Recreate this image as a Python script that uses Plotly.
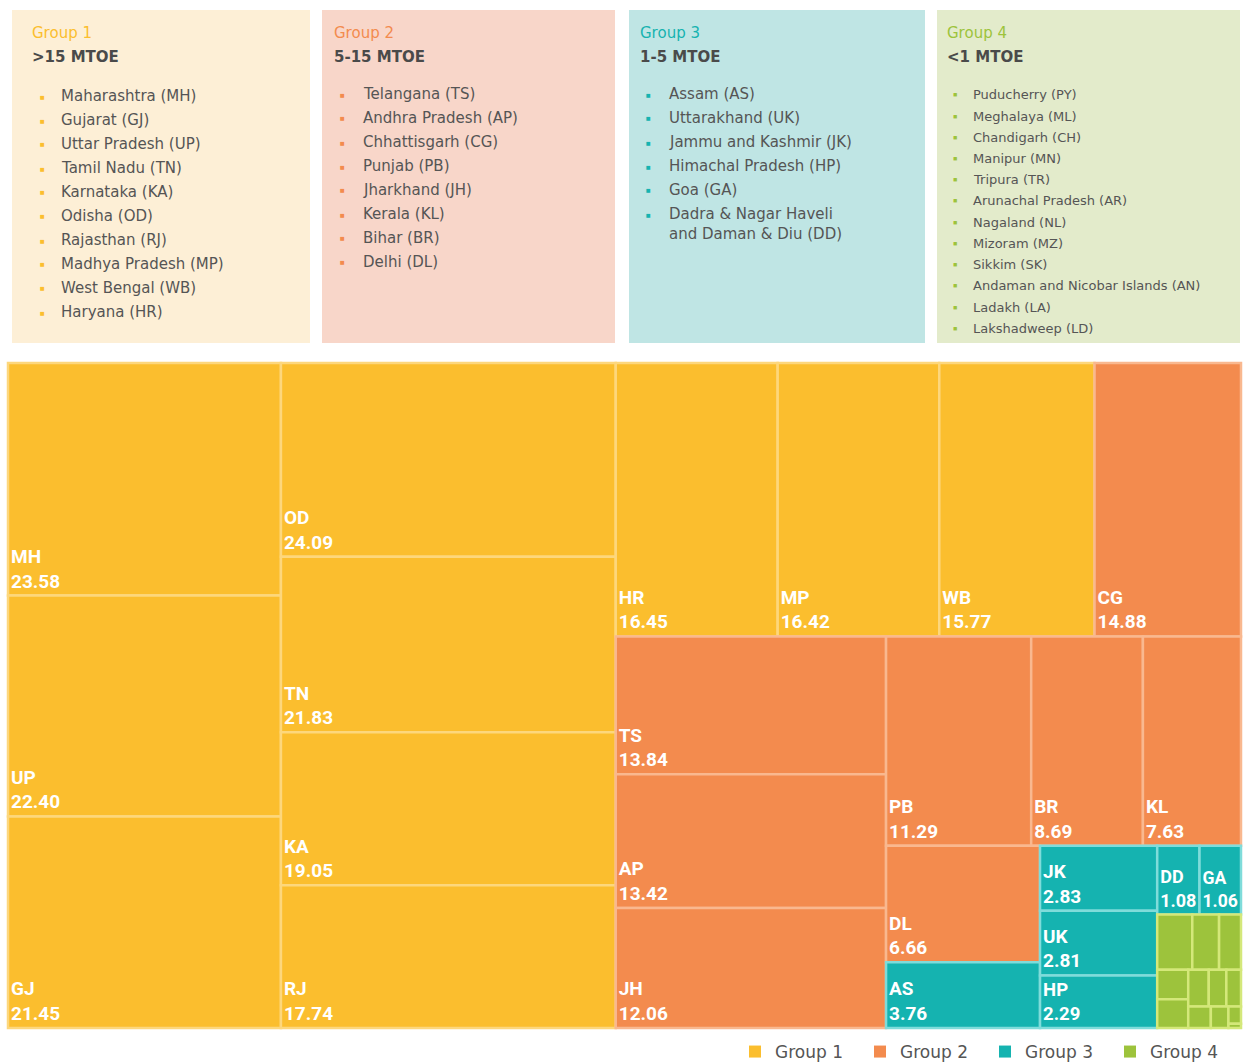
import plotly.graph_objects as go

# ---------------- data ----------------
group_names = ["Group 1", "Group 2", "Group 3", "Group 4"]
group_ranges = [">15 MTOE", "5-15 MTOE", "1-5 MTOE", "<1 MTOE"]
group_colors = ["#FBBE2E", "#F38B4E", "#15B3B0", "#9DC33C"]
group_line_colors = ["#FDD77C", "#F9B88F", "#7FDCDA", "#D4E87A"]
box_colors = ["#FDEFD6", "#F8D6C9", "#BFE5E4", "#E3EBCB"]

# tile order as it appears in the reference
g1_codes = ["MH", "UP", "GJ", "OD", "TN", "KA", "RJ", "HR", "MP", "WB"]
g1_values = [23.58, 22.40, 21.45, 24.09, 21.83, 19.05, 17.74, 16.45, 16.42, 15.77]
g2_codes = ["CG", "TS", "AP", "JH", "PB", "BR", "KL", "DL"]
g2_values = [14.88, 13.84, 13.42, 12.06, 11.29, 8.69, 7.63, 6.66]
g3_codes = ["AS", "JK", "UK", "HP", "DD", "GA"]
g3_values = [3.76, 2.83, 2.81, 2.29, 1.08, 1.06]
g4_codes = ["PY", "ML", "CH", "MN", "TR", "AR", "NL", "MZ", "SK", "AN", "LA", "LD"]
g4_values = [0.72, 0.55, 0.45, 0.34, 0.33, 0.28, 0.24, 0.20, 0.18, 0.14, 0.08, 0.02]

g1_items = ["Maharashtra (MH)", "Gujarat (GJ)", "Uttar Pradesh (UP)", "Tamil Nadu (TN)",
            "Karnataka (KA)", "Odisha (OD)", "Rajasthan (RJ)", "Madhya Pradesh (MP)",
            "West Bengal (WB)", "Haryana (HR)"]
g2_items = ["Telangana (TS)", "Andhra Pradesh (AP)", "Chhattisgarh (CG)", "Punjab (PB)",
            "Jharkhand (JH)", "Kerala (KL)", "Bihar (BR)", "Delhi (DL)"]
g3_items = ["Assam (AS)", "Uttarakhand (UK)", "Jammu and Kashmir (JK)",
            "Himachal Pradesh (HP)", "Goa (GA)",
            "Dadra & Nagar Haveli<br>and Daman & Diu (DD)"]
g4_items = ["Puducherry (PY)", "Meghalaya (ML)", "Chandigarh (CH)", "Manipur (MN)",
            "Tripura (TR)", "Arunachal Pradesh (AR)", "Nagaland (NL)", "Mizoram (MZ)",
            "Sikkim (SK)", "Andaman and Nicobar Islands (AN)", "Ladakh (LA)",
            "Lakshadweep (LD)"]

groups_codes = [g1_codes, g2_codes, g3_codes, g4_codes]
groups_values = [g1_values, g2_values, g3_values, g4_values]
groups_items = [g1_items, g2_items, g3_items, g4_items]

# ---------------- figure geometry helpers ----------------
W, H = 1248, 1063


def px(X):
    return min(1.0, max(0.0, X / W))


def py(Y):
    return min(1.0, max(0.0, 1 - Y / H))


labels, parents, values, colors, line_colors, texts = [], [], [], [], [], []
for gi, (codes, vals) in enumerate(zip(groups_codes, groups_values)):
    for c, v in zip(codes, vals):
        labels.append(c)
        parents.append("")
        values.append(v)
        colors.append(group_colors[gi])
        line_colors.append(group_line_colors[gi])
        texts.append("" if gi == 3 else f"<b>{c}<br>{v:.2f}</b>")

fig = go.Figure()
fig.add_trace(go.Treemap(
    labels=labels,
    parents=parents,
    values=values,
    text=texts,
    textinfo="text",
    textposition="bottom left",
    textfont=dict(color="white", size=19, family="Liberation Sans Narrow, Roboto, Arial"),
    marker=dict(colors=colors, line=dict(color=line_colors, width=2.5),
                pad=dict(t=0, l=0, r=0, b=0)),
    tiling=dict(packing="squarify", squarifyratio=1.618, pad=0),
    pathbar=dict(visible=False),
    root=dict(color="rgba(0,0,0,0)"),
    hoverinfo="label+value",
    sort=False,
    domain=dict(x=[px(8), px(1241)], y=[py(1028), py(363)]),
))

# legend entries
for gi, name in enumerate(group_names):
    fig.add_trace(go.Scatter(
        x=[None], y=[None], mode="markers", name=name,
        marker=dict(symbol="square", size=14, color=group_colors[gi]),
    ))

shapes = []
annotations = []
box_x = [(12, 310), (322, 615), (629, 925), (937, 1240)]
title_dx = [18, 10, 9, 8]
bullet_dx = [30, 20, 19, 18]
text_dx = [47, 39, 38, 34]
item_start = [96, 94, 94, 95]
item_step = [24, 24, 24, 21.2]
item_size = [15, 15, 15, 13]
for gi in range(4):
    x0, x1 = box_x[gi]
    shapes.append(dict(type="rect", xref="paper", yref="paper",
                       x0=px(x0), x1=px(x1), y0=py(343), y1=py(10),
                       fillcolor=box_colors[gi], line=dict(width=0), layer="below"))
    annotations.append(dict(xref="paper", yref="paper", x=px(x0 + title_dx[gi]), y=py(33),
                            xanchor="left", yanchor="middle", showarrow=False,
                            text=group_names[gi],
                            font=dict(size=15, color=group_colors[gi], family="DejaVu Sans")))
    annotations.append(dict(xref="paper", yref="paper", x=px(x0 + title_dx[gi]), y=py(57),
                            xanchor="left", yanchor="middle", showarrow=False,
                            text=f"<b>{group_ranges[gi]}</b>",
                            font=dict(size=15, color="#4a4a4a", family="DejaVu Sans")))
    yy = item_start[gi]
    for item in groups_items[gi]:
        annotations.append(dict(xref="paper", yref="paper", x=px(x0 + bullet_dx[gi]), y=py(yy),
                                xanchor="center", yanchor="middle", showarrow=False,
                                text="■",
                                font=dict(size=8 if gi < 3 else 7, color=group_colors[gi])))
        two = "<br>" in item
        annotations.append(dict(xref="paper", yref="paper", x=px(x0 + text_dx[gi]), y=py(yy),
                                xanchor="left", yanchor="top" if two else "middle",
                                yshift=11 if two else 0,
                                align="left", showarrow=False, text=item,
                                font=dict(size=item_size[gi], color="#555555",
                                          family="DejaVu Sans")))
        yy += item_step[gi]

fig.update_layout(
    width=W, height=H,
    margin=dict(l=0, r=0, t=0, b=0, autoexpand=False),
    paper_bgcolor="white",
    plot_bgcolor="white",
    xaxis=dict(visible=False),
    yaxis=dict(visible=False),
    shapes=shapes,
    annotations=annotations,
    showlegend=True,
    legend=dict(orientation="h", x=px(735), xanchor="left", y=py(1052), yanchor="middle",
                font=dict(size=17, color="#555555", family="DejaVu Sans"),
                entrywidth=80, entrywidthmode="pixels",
                itemsizing="constant", bgcolor="rgba(0,0,0,0)"),
)

fig.write_html("out.html", config={"displayModeBar": False},
               post_script="document.body.style.margin='0';")
